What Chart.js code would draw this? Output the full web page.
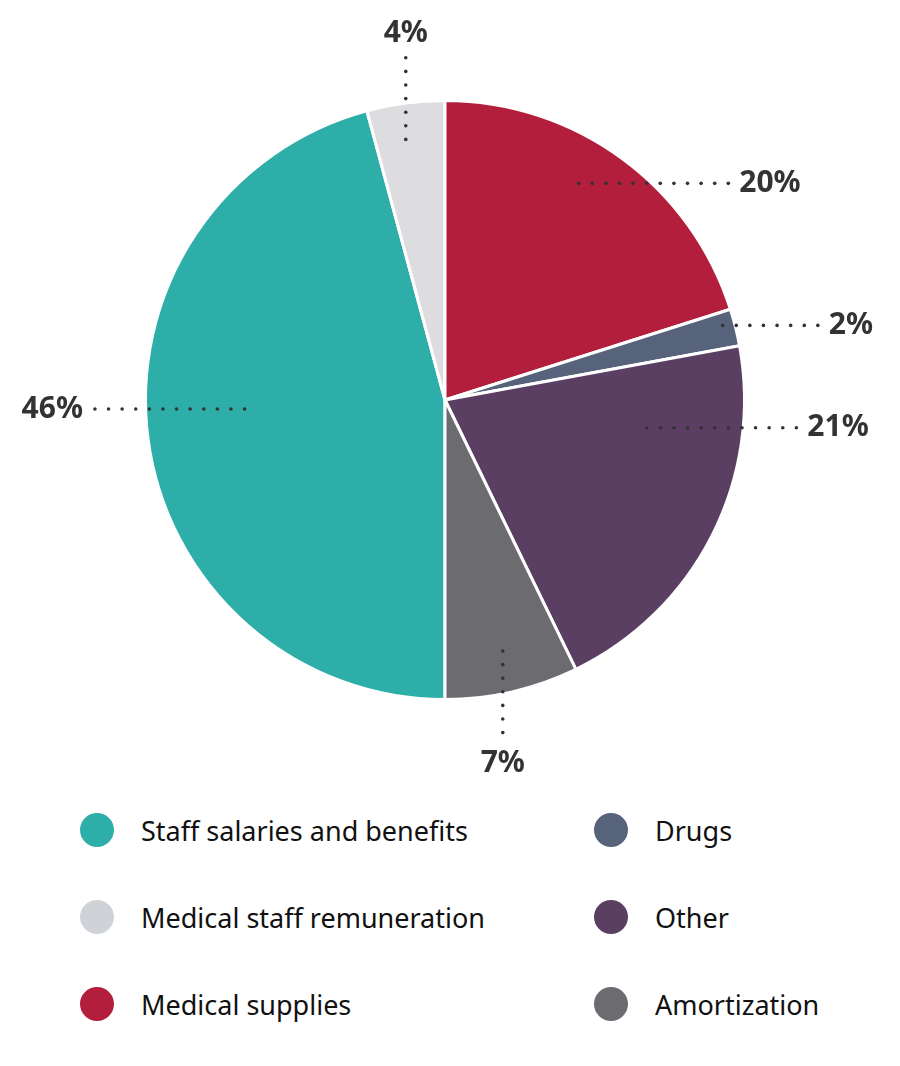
<!DOCTYPE html>
<html lang="en">

<head>
    <meta charset="UTF-8">
    <title>Expense breakdown</title>
    <script src="https://cdn.jsdelivr.net/npm/chart.js@4.4.1/dist/chart.umd.min.js"></script>
    <style>
        html, body {
            margin: 0;
            padding: 0;
            background: #fff;
        }

        .chart-wrap {
            position: relative;
            width: 900px;
            height: 780px;
        }

        .legend {
            position: relative;
            width: 900px;
            height: 286px;
            font-family: "Noto Sans", sans-serif;
            font-size: 27px;
            color: #111;
        }

        .legend-item {
            position: absolute;
            display: flex;
            align-items: center;
            height: 40px;
        }

        .legend-item .dot {
            width: 34px;
            height: 34px;
            border-radius: 50%;
            margin-right: 27px;
        }
    </style>
</head>

<body>
    <div class="chart-wrap">
        <canvas id="pieChart" width="900" height="780"></canvas>
    </div>
    <div class="legend" id="legend"></div>

    <script>
        // data (legend order)
        const categories = ['Staff salaries and benefits', 'Medical staff remuneration', 'Medical supplies', 'Drugs', 'Other', 'Amortization'];
        const shares = [45.8, 4.2, 20.1, 2.0, 20.7, 7.2];
        const sliceColors = ['#2daea8', '#dddddf', '#b21e3b', '#56637b', '#5a3f63', '#6c6b70'];
        const legendColors = ['#2daea8', '#cfd2d7', '#b21e3b', '#56637b', '#5a3f63', '#6c6b70'];

        // leader line layout per slice: direction, angle shift from mid (deg), radius fraction, length (px)
        const leaders = [
            { dir: 'left', shift: 5, r: 0.67, len: 150 },
            { dir: 'up', shift: -1, r: 0.88, len: 80 },
            { dir: 'right', shift: -4.5, r: 0.85, len: 150 },
            { dir: 'right', shift: -1, r: 0.96, len: 96 },
            { dir: 'right', shift: -19, r: 0.68, len: 145 },
            { dir: 'down', shift: 0, r: 0.86, len: 82 }
        ];

        const leaderLabels = {
            id: 'leaderLabels',
            afterDatasetsDraw(chart) {
                const ctx = chart.ctx;
                const arcs = chart.getDatasetMeta(0).data;
                ctx.save();
                arcs.forEach((arc, i) => {
                    const p = arc.getProps(['x', 'y', 'startAngle', 'endAngle', 'outerRadius'], true);
                    const L = leaders[i];
                    const a = (p.startAngle + p.endAngle) / 2 + L.shift * Math.PI / 180;
                    const ax = p.x + Math.cos(a) * p.outerRadius * L.r;
                    const ay = p.y + Math.sin(a) * p.outerRadius * L.r;
                    let dx = 0, dy = 0;
                    if (L.dir === 'left') dx = -1;
                    if (L.dir === 'right') dx = 1;
                    if (L.dir === 'up') dy = -1;
                    if (L.dir === 'down') dy = 1;

                    // dotted leader
                    ctx.fillStyle = '#333';
                    const step = 13.6;
                    const n = Math.round(L.len / step);
                    for (let k = 0; k <= n; k++) {
                        ctx.beginPath();
                        ctx.arc(ax + dx * k * step, ay + dy * k * step, 1.8, 0, Math.PI * 2);
                        ctx.fill();
                    }

                    // label
                    const ex = ax + dx * n * step;
                    const ey = ay + dy * n * step;
                    ctx.font = 'bold 30px "Noto Sans", sans-serif';
                    ctx.fillStyle = '#333';
                    ctx.textBaseline = 'middle';
                    const txt = Math.round(shares[i]) + '%';
                    if (dx > 0) {
                        ctx.textAlign = 'left';
                        ctx.fillText(txt, ex + 11, ey);
                    } else if (dx < 0) {
                        ctx.textAlign = 'right';
                        ctx.fillText(txt, ex - 12, ey);
                    } else {
                        ctx.textAlign = 'center';
                        ctx.fillText(txt, ex, ey + dy * (dy < 0 ? 24 : 31));
                    }
                });
                ctx.restore();
            }
        };

        function initializeChart() {
            const ctx = document.getElementById('pieChart').getContext('2d');
            new Chart(ctx, {
                type: 'pie',
                data: {
                    labels: categories,
                    datasets: [{
                        data: shares,
                        backgroundColor: sliceColors,
                        borderColor: '#fff',
                        borderWidth: 3
                    }]
                },
                options: {
                    responsive: false,
                    animation: false,
                    rotation: 180,
                    layout: {
                        padding: { left: 144, right: 154, top: 99, bottom: 79 }
                    },
                    plugins: {
                        legend: { display: false },
                        tooltip: { enabled: false }
                    }
                },
                plugins: [leaderLabels]
            });
        }

        function buildLegend() {
            const box = document.getElementById('legend');
            const cols = [80, 594];
            const rows = [30, 117, 204];
            categories.forEach((name, i) => {
                const item = document.createElement('div');
                item.className = 'legend-item';
                item.style.left = cols[Math.floor(i / 3)] + 'px';
                item.style.top = rows[i % 3] + 'px';
                const dot = document.createElement('span');
                dot.className = 'dot';
                dot.style.background = legendColors[i];
                const label = document.createElement('span');
                label.textContent = name;
                item.appendChild(dot);
                item.appendChild(label);
                box.appendChild(item);
            });
        }

        document.addEventListener('DOMContentLoaded', () => {
            initializeChart();
            buildLegend();
        });
    </script>
</body>

</html>
